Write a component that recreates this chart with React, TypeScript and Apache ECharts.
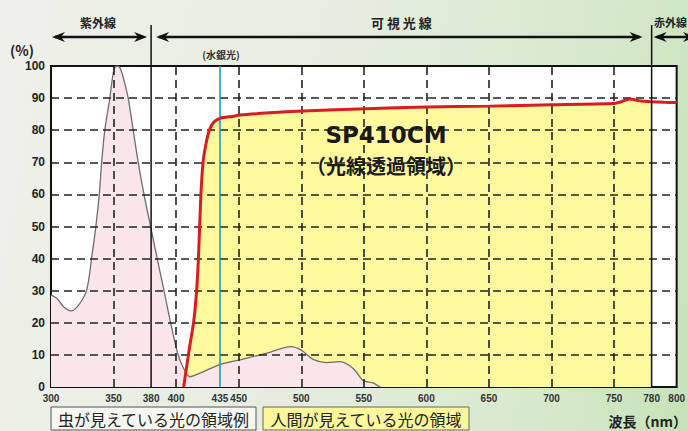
import React, { useEffect, useRef } from "react";
import * as echarts from "echarts";

const insectWl = [300, 305, 310, 316, 322, 328.5, 332.5, 336, 338.6, 340.5, 343, 347, 349, 350.5, 352.5, 355, 357, 359.3, 361.7, 365.7, 369.7, 374.3, 379.6, 384.9, 390.3, 395.6, 401.2, 405.7, 411, 420, 435, 450, 472, 492, 500, 509.5, 520, 531, 541.5, 549.5, 557, 563];
const insectVal = [28.7, 27.5, 25, 23.7, 25.5, 30.2, 40.3, 50.5, 60, 70, 80, 90, 96, 99, 100, 99.5, 97.5, 94, 90, 80, 70, 60, 50, 40, 30, 20, 10.5, 6, 3.2, 4.5, 7, 8.4, 10.5, 12.6, 11.5, 8.6, 7.6, 7.9, 5.8, 2, 1.3, 0];

const filterWl = [406, 410, 414, 416.4, 417.8, 418.8, 419.8, 421.5, 424, 426.5, 430, 435, 445, 451, 475, 501.5, 552, 600, 650, 700, 749, 755, 762.5, 770, 780, 790, 800];
const filterVal = [0, 10.5, 20.3, 30.2, 40, 50, 60, 70, 76, 80, 82.5, 83.7, 84.3, 84.7, 85.4, 86.0, 86.7, 87.2, 87.5, 87.9, 88.3, 88.8, 89.7, 89.2, 88.9, 88.7, 88.6];

const xTickLabels = [300, 350, 380, 400, 435, 450, 500, 550, 600, 650, 700, 750, 780, 800];
const xGridValues = [350, 400, 450, 500, 550, 600, 650, 700, 750];
const yGridValues = [10, 20, 30, 40, 50, 60, 70, 80, 90];
const mercuryLine = 435;
const uvLimit = 380;
const irLimit = 780;
const visibleEnd = 780;

const NUM_FONT = "'Liberation Sans Narrow', 'Liberation Sans', sans-serif";
const JP_FONT = "'Noto Sans CJK JP', sans-serif";

export default function App() {
  const ref = useRef<HTMLDivElement>(null);
  useEffect(() => {
    if (!ref.current) return;
    const chart = echarts.init(ref.current, null, { renderer: "svg" });
    const insect = insectWl.map((w, i) => [w, insectVal[i]]);
    const filter = filterWl.map((w, i) => [w, filterVal[i]]);
    const filterFill = filter.filter((p) => p[0] <= visibleEnd);
    const gridStyle = { color: "#222", width: 1.6, type: [8, 5] as any };
    const option: any = {
      animation: false,
      grid: {
        left: 51,
        right: 11,
        top: 66,
        bottom: 44,
        show: true,
        backgroundColor: "#ffffff",
        borderColor: "#111",
        borderWidth: 2,
      },
      xAxis: {
        type: "value",
        min: 300,
        max: 800,
        interval: 50,
        axisLine: { show: false },
        axisTick: { show: false },
        splitLine: { show: false },
        axisLabel: {
          customValues: xTickLabels,
          fontFamily: NUM_FONT,
          fontWeight: "bold",
          fontSize: 10,
          color: "#333",
          margin: 6,
        },
      },
      yAxis: {
        type: "value",
        min: 0,
        max: 100,
        interval: 10,
        axisLine: { show: false },
        axisTick: { show: false },
        splitLine: { show: false },
        axisLabel: {
          fontFamily: NUM_FONT,
          fontWeight: "bold",
          fontSize: 12,
          color: "#222",
          margin: 6,
        },
      },
      series: [
        {
          type: "line",
          name: "fill",
          data: filterFill,
          smooth: 0.2,
          symbol: "none",
          lineStyle: { width: 0 },
          areaStyle: { color: "#fdf99c", opacity: 1 },
          z: 1,
        },
        {
          type: "line",
          name: "insect",
          data: insect,
          smooth: 0.3,
          symbol: "none",
          lineStyle: { color: "#6e6e6e", width: 1.3 },
          areaStyle: { color: "#fae5ea", opacity: 1 },
          z: 2,
        },
        {
          type: "line",
          name: "grid",
          data: [],
          z: 3,
          markLine: {
            silent: true,
            symbol: "none",
            label: { show: false },
            lineStyle: gridStyle,
            data: [
              ...xGridValues.map((v) => ({ xAxis: v })),
              ...yGridValues.map((v) => ({ yAxis: v })),
            ],
          },
        },
        {
          type: "line",
          name: "marks",
          data: [],
          z: 4,
          markLine: {
            silent: true,
            symbol: "none",
            label: { show: false },
            data: [
              { xAxis: mercuryLine, lineStyle: { color: "#1e9cc0", width: 1.6, type: "solid" } },
            ],
          },
        },
        {
          type: "line",
          name: "filter",
          data: filter,
          smooth: 0.2,
          symbol: "none",
          lineStyle: { color: "#d91c1f", width: 3 },
          z: 5,
        },
      ],
    };
    chart.setOption(option);

    const px = (v: number) => chart.convertToPixel({ xAxisIndex: 0 }, v) as number;
    const py = (v: number) => chart.convertToPixel({ yAxisIndex: 0 }, v) as number;
    const x300 = px(300);
    const x380 = px(uvLimit);
    const x780 = px(irLimit);
    const x435 = px(mercuryLine);
    const y0 = py(0);
    const arrowY = 37;
    const lineTop = 25;

    const headL = (x: number) => ({
      type: "polygon",
      shape: { points: [[x, arrowY], [x + 13, arrowY - 5], [x + 9, arrowY], [x + 13, arrowY + 5]] },
      style: { fill: "#111" },
      z: 20,
    });
    const headR = (x: number) => ({
      type: "polygon",
      shape: { points: [[x, arrowY], [x - 13, arrowY - 5], [x - 9, arrowY], [x - 13, arrowY + 5]] },
      style: { fill: "#111" },
      z: 20,
    });
    const shaft = (a: number, b: number) => ({
      type: "line",
      shape: { x1: a, y1: arrowY, x2: b, y2: arrowY },
      style: { stroke: "#111", lineWidth: 2.5 },
      z: 20,
    });
    const vline = (x: number) => ({
      type: "line",
      shape: { x1: x, y1: lineTop, x2: x, y2: y0 },
      style: { stroke: "#111", lineWidth: 1.5 },
      z: 50,
    });

    const graphic: any[] = [
      vline(x380),
      vline(x780),
      shaft(x300 + 4, x380 - 8),
      headL(x300 + 1),
      headR(x380 - 4),
      shaft(x380 + 8, x780 - 12),
      headL(x380 + 5),
      headR(x780 - 9),
      shaft(x780 + 5, 700),
      headL(x780 + 2),
      headR(696),
      {
        type: "text",
        x: (x300 + x380) / 2 - 3,
        y: 22,
        style: { text: "紫外線", font: `bold 12px ${JP_FONT}`, fill: "#222", align: "center", verticalAlign: "middle" },
        z: 20,
      },
      {
        type: "text",
        x: (x380 + x780) / 2,
        y: 22,
        style: { text: "可 視 光 線", font: `bold 13px ${JP_FONT}`, fill: "#222", align: "center", verticalAlign: "middle" },
        z: 20,
      },
      {
        type: "text",
        x: 687,
        y: 22,
        style: { text: "赤外線", font: `bold 11px ${JP_FONT}`, fill: "#222", align: "right", verticalAlign: "middle" },
        z: 20,
      },
      {
        type: "text",
        x: 22,
        y: 50,
        style: { text: "(%)", font: `bold 14px ${JP_FONT}`, fill: "#222", align: "center", verticalAlign: "middle" },
        z: 20,
      },
      {
        type: "text",
        x: x435 + 1,
        y: 54,
        style: { text: "(水銀光)", font: `bold 10px ${JP_FONT}`, fill: "#333", align: "center", verticalAlign: "middle" },
        z: 20,
      },
      {
        type: "text",
        x: 386,
        y: 135,
        style: { text: "SP410CM", font: "bold 23px 'DejaVu Sans', sans-serif", fill: "#1a1a1a", align: "center", verticalAlign: "middle" },
        z: 20,
      },
      {
        type: "text",
        x: 386,
        y: 165,
        style: { text: "（光線透過領域）", font: `bold 20px ${JP_FONT}`, fill: "#1a1a1a", align: "center", verticalAlign: "middle" },
        z: 20,
      },
      {
        type: "rect",
        shape: { x: 51, y: 407, width: 205, height: 23 },
        style: { fill: "#f7f7f2", stroke: "#555", lineWidth: 1 },
        z: 20,
      },
      {
        type: "text",
        x: 153.5,
        y: 419,
        style: { text: "虫が見えている光の領域例", font: `16px ${JP_FONT}`, fill: "#222", align: "center", verticalAlign: "middle" },
        z: 21,
      },
      {
        type: "rect",
        shape: { x: 263, y: 407, width: 206, height: 23 },
        style: { fill: "#fbf79a", stroke: "#666", lineWidth: 1 },
        z: 20,
      },
      {
        type: "text",
        x: 366,
        y: 419,
        style: { text: "人間が見えている光の領域", font: `16px ${JP_FONT}`, fill: "#222", align: "center", verticalAlign: "middle" },
        z: 21,
      },
      {
        type: "text",
        x: 687,
        y: 421,
        style: { text: "波長（nm）", font: `bold 14px ${JP_FONT}`, fill: "#222", align: "right", verticalAlign: "middle" },
        z: 20,
      },
    ];
    chart.setOption({ graphic });

    return () => chart.dispose();
  }, []);

  return (
    <div
      ref={ref}
      style={{
        position: "fixed",
        left: 0,
        top: 0,
        width: 688,
        height: 431,
        background: "linear-gradient(100deg, #eff0ea 0%, #e6ede0 45%, #d6e9cc 80%, #c6e2b8 100%)",
      }}
    />
  );
}
